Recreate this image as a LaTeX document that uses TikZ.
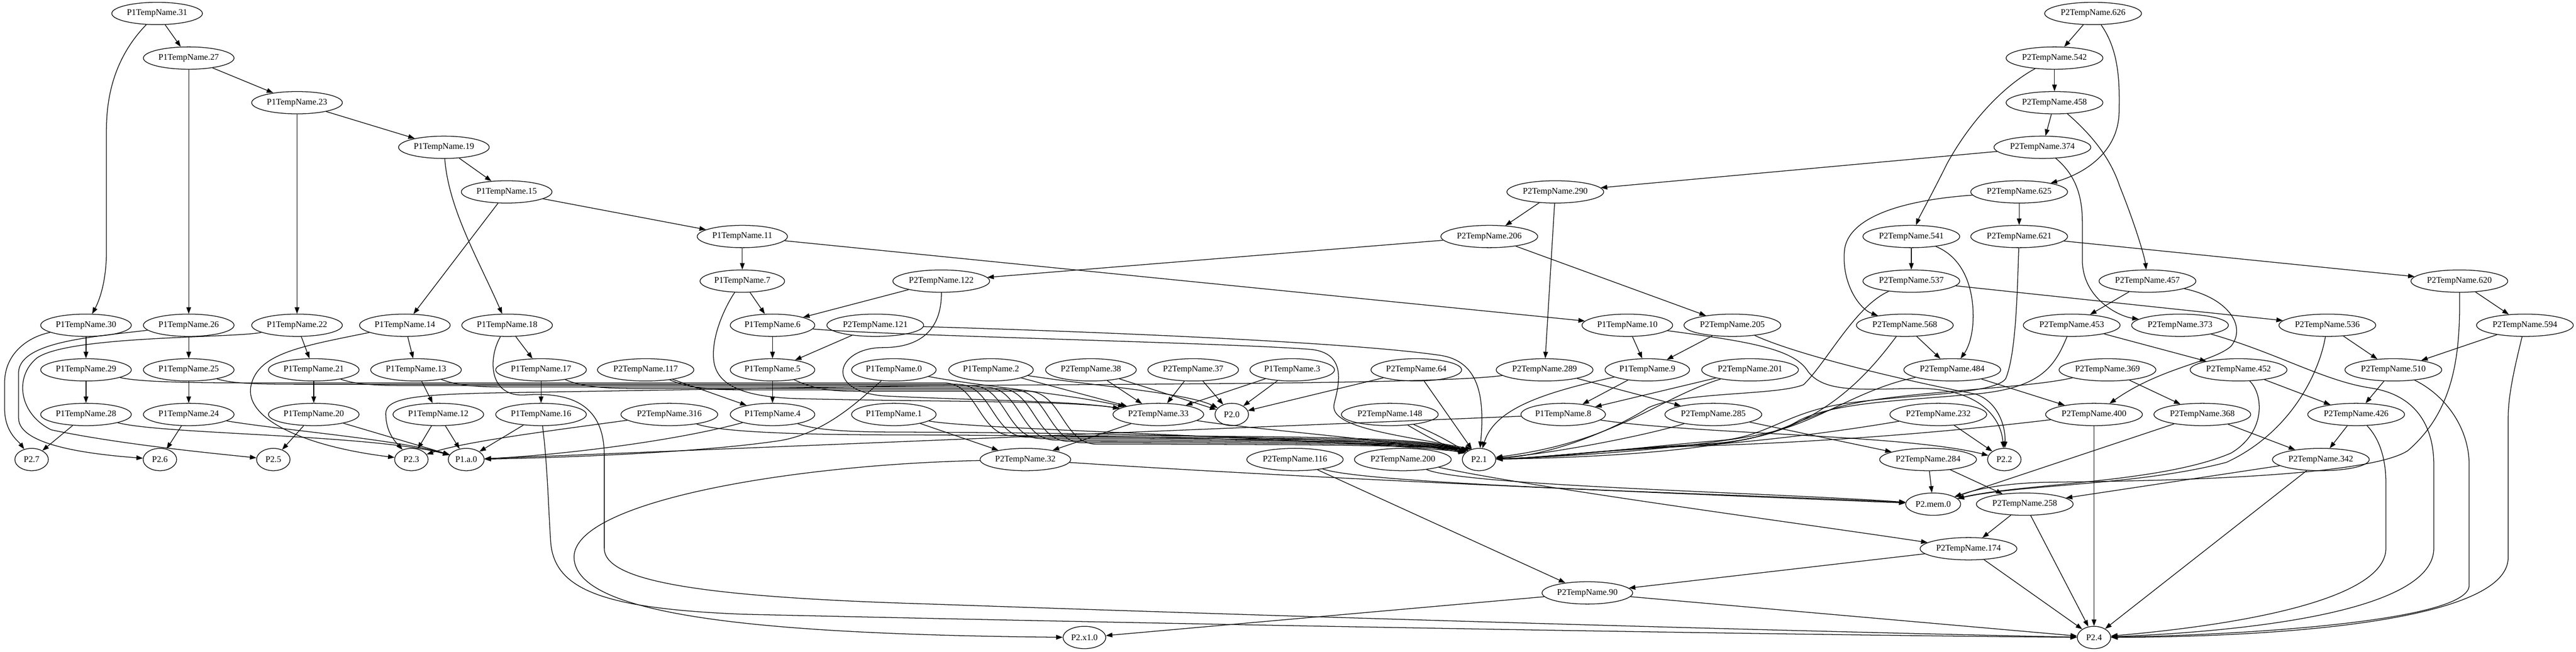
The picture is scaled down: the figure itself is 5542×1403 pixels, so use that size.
\documentclass[tikz,border=0pt]{standalone}
\usepackage{fontspec}
\setmainfont{Liberation Serif}
\usetikzlibrary{shapes.geometric,arrows.meta}
\begin{document}
\begin{tikzpicture}[x=0.01cm,y=-0.01cm,
 nd/.style={ellipse,draw,line width=0.4pt,inner xsep=0.04cm,inner ysep=0.01cm,minimum height=0.48cm,minimum width=0.72cm,font=\fontsize{5.31pt}{6.4pt}\selectfont},
 e/.style={line width=0.4pt,-{Triangle[length=0.14cm,width=0.1cm]}}]
\useasboundingbox (0,0) rectangle (5542,1403);
% ---------- nodes ----------
\node[nd] (n31) at (338,29) {P1TempName.31};
\node[nd] (n27) at (406,125) {P1TempName.27};
\node[nd] (n23) at (639,221) {P1TempName.23};
\node[nd] (n19) at (955,317) {P1TempName.19};
\node[nd] (n15) at (1090,413) {P1TempName.15};
\node[nd] (n11) at (1597,509) {P1TempName.11};
\node[nd] (n7) at (1597,605) {P1TempName.7};
\node[nd] (n30) at (185,700) {P1TempName.30};
\node[nd] (n26) at (406,700) {P1TempName.26};
\node[nd] (n22) at (639,700) {P1TempName.22};
\node[nd] (n14) at (871,700) {P1TempName.14};
\node[nd] (n18) at (1091,700) {P1TempName.18};
\node[nd] (n6) at (1662,700) {P1TempName.6};
\node[nd] (q121) at (1883,700) {P2TempName.121};
\node[nd] (q122) at (2025,605) {P2TempName.122};
\node[nd] (n29) at (185,796) {P1TempName.29};
\node[nd] (n25) at (406,796) {P1TempName.25};
\node[nd] (n21) at (675,796) {P1TempName.21};
\node[nd] (n13) at (895,796) {P1TempName.13};
\node[nd] (n17) at (1164,796) {P1TempName.17};
\node[nd] (q117) at (1389,796) {P2TempName.117};
\node[nd] (n5) at (1662,796) {P1TempName.5};
\node[nd] (n0) at (1923,796) {P1TempName.0};
\node[nd] (n2) at (2132,796) {P1TempName.2};
\node[nd] (q38) at (2347,796) {P2TempName.38};
\node[nd] (q37) at (2567,796) {P2TempName.37};
\node[nd] (n3) at (2780,796) {P1TempName.3};
\node[nd] (q64) at (3047,796) {P2TempName.64};
\node[nd] (q289) at (3323,796) {P2TempName.289};
\node[nd] (n9) at (3544,796) {P1TempName.9};
\node[nd] (q201) at (3765,796) {P2TempName.201};
\node[nd] (q484) at (4200,796) {P2TempName.484};
\node[nd] (q369) at (4534,796) {P2TempName.369};
\node[nd] (q452) at (4816,796) {P2TempName.452};
\node[nd] (q510) at (5149,796) {P2TempName.510};
\node[nd] (n28) at (185,892) {P1TempName.28};
\node[nd] (n24) at (406,892) {P1TempName.24};
\node[nd] (n20) at (675,892) {P1TempName.20};
\node[nd] (n12) at (943,892) {P1TempName.12};
\node[nd] (n16) at (1164,892) {P1TempName.16};
\node[nd] (q316) at (1440,892) {P2TempName.316};
\node[nd] (n4) at (1662,892) {P1TempName.4};
\node[nd] (n1) at (1923,892) {P1TempName.1};
\node[nd] (q33) at (2492,892) {P2TempName.33};
\node[nd] (p20) at (2650,892) {P2.0};
\node[nd] (q148) at (2990,892) {P2TempName.148};
\node[nd] (n8) at (3363,892) {P1TempName.8};
\node[nd] (q285) at (3686,892) {P2TempName.285};
\node[nd] (q232) at (4170,892) {P2TempName.232};
\node[nd] (q400) at (4505,892) {P2TempName.400};
\node[nd] (q368) at (4738,892) {P2TempName.368};
\node[nd] (q426) at (5069,892) {P2TempName.426};
\node[nd] (p27) at (68,989) {P2.7};
\node[nd] (p26) at (344,989) {P2.6};
\node[nd] (p25) at (588,989) {P2.5};
\node[nd] (p23) at (885,989) {P2.3};
\node[nd] (pa0) at (1003,989) {P1.a.0};
\node[nd] (q32) at (2206,989) {P2TempName.32};
\node[nd] (q116) at (2786,989) {P2TempName.116};
\node[nd] (q200) at (3018,989) {P2TempName.200};
\node[nd] (p21) at (3182,989) {P2.1};
\node[nd] (q284) at (4148,989) {P2TempName.284};
\node[nd] (p22) at (4312,989) {P2.2};
\node[nd] (q342) at (4993,989) {P2TempName.342};
\node[nd] (pmem) at (4159,1085) {P2.mem.0};
\node[nd] (q258) at (4356,1085) {P2TempName.258};
\node[nd] (q174) at (4235,1181) {P2TempName.174};
\node[nd] (q90) at (3415,1276) {P2TempName.90};
\node[nd] (px1) at (2333,1372) {P2.x1.0};
\node[nd] (p24) at (4505,1372) {P2.4};
\node[nd] (q626) at (4503,29) {P2TempName.626};
\node[nd] (q542) at (4420,125) {P2TempName.542};
\node[nd] (q458) at (4420,221) {P2TempName.458};
\node[nd] (q374) at (4394,317) {P2TempName.374};
\node[nd] (q290) at (3346,413) {P2TempName.290};
\node[nd] (q625) at (4344,413) {P2TempName.625};
\node[nd] (q206) at (3204,509) {P2TempName.206};
\node[nd] (q541) at (4112,509) {P2TempName.541};
\node[nd] (q621) at (4344,509) {P2TempName.621};
\node[nd] (q537) at (4112,605) {P2TempName.537};
\node[nd] (q457) at (4620,605) {P2TempName.457};
\node[nd] (q620) at (5291,605) {P2TempName.620};
\node[nd] (n10) at (3501,700) {P1TempName.10};
\node[nd] (q205) at (3727,700) {P2TempName.205};
\node[nd] (q568) at (4098,700) {P2TempName.568};
\node[nd] (q453) at (4457,700) {P2TempName.453};
\node[nd] (q373) at (4690,700) {P2TempName.373};
\node[nd] (q536) at (5007,700) {P2TempName.536};
\node[nd] (q594) at (5432,700) {P2TempName.594};
% ---------- P1 part ----------
\draw[e] (n31) -- (n27);
\draw[e] (n31) .. controls (250,120) and (229,200) .. (229,280) -- (229,540) .. controls (229,610) and (212,650) .. (n30);
\draw[e] (n27) -- (n23);
\draw[e] (n27) -- (n26);
\draw[e] (n23) -- (n22);
\draw[e] (n23) -- (n19);
\draw[e] (n19) -- (n15);
\draw[e] (n19) .. controls (965,450) and (1030,560) .. (n18);
\draw[e] (n15) -- (n14);
\draw[e] (n15) -- (n11);
\draw[e] (n11) -- (n7);
\draw[e] (n11) -- (n10);
\draw[e] (n7) -- (n6);
\draw[e] (n7) .. controls (1560,660) and (1532,720) .. (1535,770) .. controls (1538,830) and (1600,855) .. (1720,858) .. controls (2000,865) and (2300,862) .. (q33);
\draw[e] (n30) -- (n29);
\draw[e] (n30) .. controls (60,725) and (12,760) .. (10,820) -- (10,880) .. controls (10,930) and (40,950) .. (p27);
\draw[e] (n26) .. controls (200,725) and (45,735) .. (40,800) -- (40,900) .. controls (40,960) and (200,978) .. (p26);
\draw[e] (n22) .. controls (500,728) and (150,722) .. (80,770) .. controls (30,810) and (40,890) .. (110,925) .. controls (250,955) and (450,975) .. (p25);
\draw[e] (n26) -- (n25);
\draw[e] (n22) -- (n21);
\draw[e] (n14) -- (n13);
\draw[e] (n14) .. controls (650,745) and (555,760) .. (540,830) .. controls (525,900) and (650,960) .. (p23);
\draw[e] (n18) -- (n17);
\draw[e] (n18) .. controls (1050,770) and (1050,855) .. (1130,850) .. controls (1240,842) and (1300,880) .. (1300,980) -- (1300,1180) .. controls (1300,1250) and (1500,1285) .. (2000,1300) .. controls (3000,1335) and (4000,1362) .. (p24);
\draw[e] (n17) -- (n16);
\draw[e] (n16) -- (pa0);
\draw[e] (n16) .. controls (1178,1000) and (1180,1100) .. (1185,1170) .. controls (1195,1270) and (1300,1310) .. (1600,1322) .. controls (2600,1345) and (3800,1366) .. (p24);
\draw[e] (n29) -- (n28);
\draw[e] (n28) -- (p27);
\draw[e] (n28) .. controls (350,935) and (800,935) .. (pa0);
\draw[e] (n25) -- (n24);
\draw[e] (n24) -- (p26);
\draw[e] (n24) .. controls (600,925) and (850,945) .. (pa0);
\draw[e] (n21) -- (n20);
\draw[e] (n20) -- (p25);
\draw[e] (n20) -- (pa0);
\draw[e] (n13) -- (n12);
\draw[e] (n12) -- (p23);
\draw[e] (n12) -- (pa0);
\draw[e] (q117) -- (n4);
\draw[e] (q316) .. controls (1200,925) and (1000,950) .. (p23);
\draw[e] (n6) -- (n5);
\draw[e] (n5) -- (n4);
\draw[e] (q121) -- (n5);
\draw[e] (q122) -- (n6);
\draw[e] (n4) .. controls (1450,950) and (1200,980) .. (pa0);
\draw[e] (n0) .. controls (1850,860) and (1780,930) .. (1680,948) .. controls (1500,975) and (1200,985) .. (pa0);
\draw[e] (n8) -- (pa0);
% ---------- bundle into P2.1 from the left ----------
\draw[e] (n29) .. controls (300,822) and (400,824) .. (550,824) -- (2030,824) .. controls (2105,824) and (2105,938) .. (2180,938) .. controls (2800,938) and (3060,940) .. (p21.140);
\draw[e] (n25) .. controls (500,826) and (560,827) .. (650,827) -- (2060,827) .. controls (2135,827) and (2135,941) .. (2210,941) .. controls (2800,941) and (3060,943) .. (p21.140);
\draw[e] (n21) .. controls (770,829) and (820,830) .. (900,830) -- (2090,830) .. controls (2165,830) and (2165,944) .. (2240,944) .. controls (2800,944) and (3060,946) .. (p21.140);
\draw[e] (n13) .. controls (990,832) and (1040,833) .. (1100,833) -- (2120,833) .. controls (2195,833) and (2195,947) .. (2270,947) .. controls (2800,947) and (3060,949) .. (p21.140);
\draw[e] (n17) .. controls (1260,835) and (1310,836) .. (1380,836) -- (2150,836) .. controls (2225,836) and (2225,950) .. (2300,950) .. controls (2800,950) and (3060,952) .. (p21.140);
\draw[e] (q117) .. controls (1490,838) and (1540,839) .. (1600,839) -- (2180,839) .. controls (2255,839) and (2255,953) .. (2330,953) .. controls (2800,953) and (3060,955) .. (p21.140);
\draw[e] (n5) .. controls (1760,841) and (1800,842) .. (1850,842) -- (2210,842) .. controls (2285,842) and (2285,956) .. (2360,956) .. controls (2800,956) and (3060,958) .. (p21.140);
\draw[e] (n4) .. controls (1760,928) and (1850,930) .. (1950,930) .. controls (2500,932) and (3040,948) .. (p21.150);
\draw[e] (q316) .. controls (1560,934) and (1800,936) .. (1950,936) .. controls (2500,938) and (3040,952) .. (p21.150);
\draw[e] (n1) .. controls (2100,925) and (2800,940) .. (p21.150);
\draw[e] (n6) .. controls (1900,722) and (2650,738) .. (2820,752) .. controls (2900,760) and (2880,830) .. (2870,870) .. controls (2860,920) and (3000,935) .. (p21.125);
\draw[e] (q121) .. controls (2300,712) and (2900,735) .. (3100,765) .. controls (3180,778) and (3195,850) .. (p21);
\draw[e] (q122) .. controls (2026,700) and (1990,748) .. (1900,748) .. controls (1800,748) and (1770,840) .. (1900,852) .. controls (2100,862) and (2300,862) .. (q33);
\draw[e] (n0) .. controls (2100,830) and (2300,848) .. (q33);
% ---------- middle ----------
\draw[e] (n2) -- (q33);
\draw[e] (n2) .. controls (2350,830) and (2550,845) .. (p20);
\draw[e] (q38) -- (q33);
\draw[e] (q38) -- (p20);
\draw[e] (q37) -- (q33);
\draw[e] (q37) -- (p20);
\draw[e] (n3) -- (q33);
\draw[e] (n3) -- (p20);
\draw[e] (q64) -- (p20);
\draw[e] (q64) -- (p21);
\draw[e] (q148) to[bend left=4] (p21);
\draw[e] (q148) to[bend right=4] (p21);
\draw[e] (n1) -- (q32);
\draw[e] (q33) -- (q32);
\draw[e] (q33) .. controls (2700,925) and (2980,945) .. (p21.155);
\draw[e] (q32) .. controls (2900,1035) and (3800,1070) .. (pmem);
\draw[e] (q32) .. controls (1700,1000) and (1232,1080) .. (1235,1200) .. controls (1238,1320) and (1600,1365) .. (px1);
\draw[e] (q116) .. controls (2950,1045) and (3800,1065) .. (pmem);
\draw[e] (q116) -- (q90);
\draw[e] (q200) .. controls (3150,1045) and (3800,1060) .. (pmem);
\draw[e] (q200) .. controls (3300,1050) and (3900,1130) .. (q174);
\draw[e] (q289) .. controls (3100,826) and (2500,826) .. (2000,830) -- (1100,845) .. controls (900,848) and (830,855) .. (830,890) .. controls (830,930) and (850,950) .. (p23);
\draw[e] (q290) -- (q206);
\draw[e] (q290) -- (q289);
\draw[e] (q206) -- (q122);
\draw[e] (q206) -- (q205);
\draw[e] (n10) -- (n9);
\draw[e] (q205) -- (n9);
\draw[e] (n9) -- (n8);
\draw[e] (q201) -- (n8);
\draw[e] (q289) -- (q285);
\draw[e] (q285) -- (q284);
\draw[e] (n9) .. controls (3320,845) and (3215,880) .. (p21);
\draw[e] (q201) .. controls (3560,860) and (3480,950) .. (p21);
\draw[e] (q285) .. controls (3550,935) and (3350,975) .. (p21);
% ---------- bundle into P2.1 from the right ----------
\draw[e] (q568) .. controls (4030,790) and (3950,890) .. (3800,935) .. controls (3650,975) and (3400,985) .. (p21);
\draw[e] (q621) .. controls (4340,620) and (4338,760) .. (4315,815) .. controls (4290,850) and (4100,848) .. (3960,870) .. controls (3840,890) and (3800,940) .. (3700,948) .. controls (3500,965) and (3350,985) .. (p21);
\draw[e] (q537) .. controls (3990,660) and (3930,780) .. (3880,828) .. controls (3820,852) and (3620,842) .. (3545,878) .. controls (3480,920) and (3350,978) .. (p21);
\draw[e] (q453) .. controls (4420,790) and (4390,835) .. (4250,848) .. controls (4100,862) and (3950,865) .. (3870,905) .. controls (3820,935) and (3750,952) .. (3650,957) .. controls (3450,968) and (3330,985) .. (p21);
\draw[e] (q369) .. controls (4350,838) and (4080,842) .. (3960,875) .. controls (3860,905) and (3800,950) .. (3680,955) .. controls (3480,965) and (3330,985) .. (p21);
\draw[e] (q400) .. controls (4150,935) and (3850,955) .. (3640,960) .. controls (3450,968) and (3320,985) .. (p21);
\draw[e] (q232) .. controls (3950,930) and (3750,955) .. (3600,962) .. controls (3450,970) and (3310,985) .. (p21);
\draw[e] (q484) .. controls (4010,835) and (3930,895) .. (3830,925) .. controls (3700,960) and (3400,982) .. (p21);
% ---------- P2.2 ----------
\draw[e] (q232) -- (p22);
\draw[e] (n8) .. controls (3650,935) and (4100,935) .. (p22);
\draw[e] (n10) .. controls (3760,735) and (3860,750) .. (3890,800) .. controls (3925,845) and (4000,838) .. (4120,836) .. controls (4260,834) and (4305,900) .. (p22);
\draw[e] (q205) .. controls (3880,770) and (4150,830) .. (4250,848) .. controls (4300,865) and (4315,920) .. (p22);
% ---------- P2.mem.0 and bottom ----------
\draw[e] (q284) -- (pmem);
\draw[e] (q368) -- (pmem);
\draw[e] (q452) .. controls (4870,850) and (4875,930) .. (4800,975) .. controls (4650,1040) and (4350,1040) .. (pmem);
\draw[e] (q536) .. controls (4990,800) and (4930,930) .. (4790,995) .. controls (4600,1045) and (4350,1042) .. (pmem);
\draw[e] (q620) .. controls (5293,750) and (5285,880) .. (5180,970) .. controls (5080,1035) and (4500,1036) .. (4400,1038) .. controls (4320,1040) and (4260,1050) .. (pmem);
\draw[e] (q342) -- (q258);
\draw[e] (q284) -- (q258);
\draw[e] (q258) -- (q174);
\draw[e] (q258) -- (p24);
\draw[e] (q174) -- (q90);
\draw[e] (q174) -- (p24);
\draw[e] (q90) -- (px1);
\draw[e] (q90) -- (p24);
\draw[e] (q400) -- (p24);
\draw[e] (q342) -- (p24);
% ---------- top P2 part ----------
\draw[e] (q626) -- (q542);
\draw[e] (q626) .. controls (4560,110) and (4560,180) .. (4559,240) .. controls (4558,330) and (4480,375) .. (q625);
\draw[e] (q542) -- (q458);
\draw[e] (q542) .. controls (4310,185) and (4240,260) .. (4190,350) .. controls (4150,430) and (4130,465) .. (q541);
\draw[e] (q458) -- (q374);
\draw[e] (q458) .. controls (4500,290) and (4540,340) .. (4560,400) .. controls (4600,500) and (4615,560) .. (q457);
\draw[e] (q374) -- (q290);
\draw[e] (q374) .. controls (4470,380) and (4480,430) .. (4480,480) -- (4480,560) .. controls (4480,640) and (4555,680) .. (q373);
\draw[e] (q625) -- (q621);
\draw[e] (q625) .. controls (4100,430) and (3975,465) .. (3968,540) .. controls (3962,610) and (4000,665) .. (q568);
\draw[e] (q541) -- (q537);
\draw[e] (q541) .. controls (4225,555) and (4245,620) .. (4245,680) .. controls (4245,730) and (4230,755) .. (q484);
\draw[e] (q621) -- (q620);
\draw[e] (q537) -- (q536);
\draw[e] (q457) -- (q453);
\draw[e] (q457) .. controls (4790,640) and (4835,700) .. (4800,745) .. controls (4760,780) and (4650,790) .. (q400);
\draw[e] (q620) -- (q594);
\draw[e] (q568) -- (q484);
\draw[e] (q484) -- (q400);
\draw[e] (q453) -- (q452);
\draw[e] (q369) -- (q368);
\draw[e] (q368) -- (q342);
\draw[e] (q452) -- (q426);
\draw[e] (q510) -- (q426);
\draw[e] (q536) -- (q510);
\draw[e] (q594) -- (q510);
\draw[e] (q426) -- (q342);
\draw[e] (q373) .. controls (4900,760) and (5000,820) .. (5100,835) .. controls (5200,850) and (5236,920) .. (5236,1000) -- (5236,1180) .. controls (5236,1330) and (4750,1362) .. (p24);
\draw[e] (q510) .. controls (5260,850) and (5312,920) .. (5312,1000) -- (5312,1260) .. controls (5312,1335) and (4850,1366) .. (p24);
\draw[e] (q594) .. controls (5410,790) and (5396,850) .. (5396,900) -- (5396,1200) .. controls (5396,1330) and (4950,1370) .. (p24);
\draw[e] (q426) .. controls (5125,950) and (5133,1000) .. (5133,1040) -- (5133,1180) .. controls (5133,1310) and (4700,1355) .. (p24);
\end{tikzpicture}
\end{document}
